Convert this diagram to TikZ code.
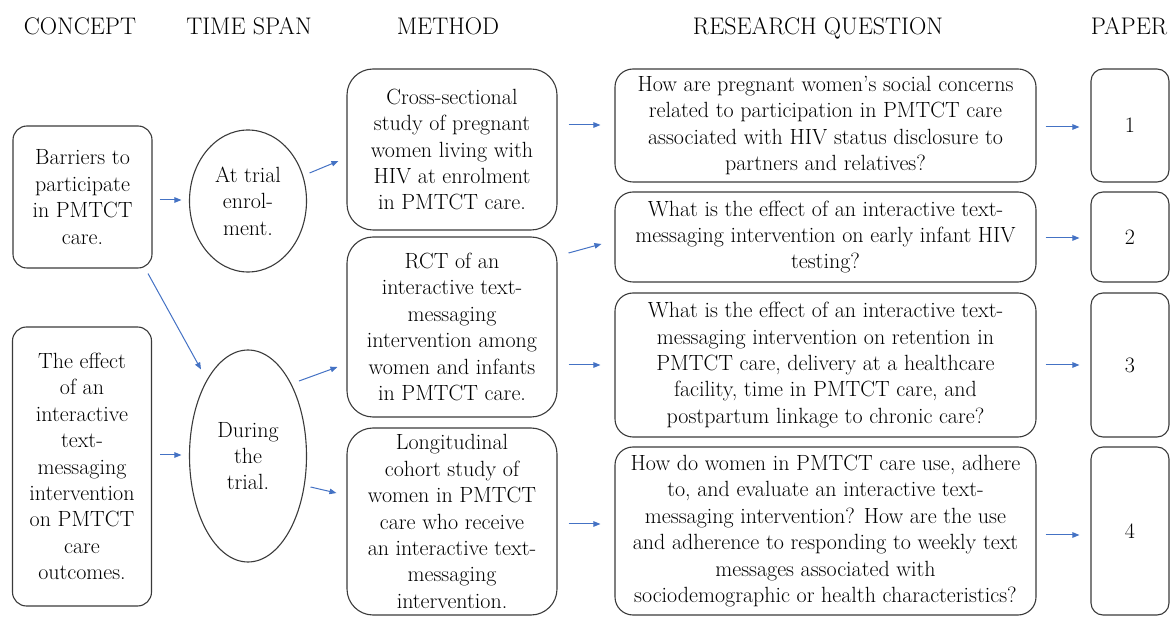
\documentclass[tikz,border=0pt]{standalone}
\usepackage{fontspec}
\usetikzlibrary{shapes.geometric,arrows.meta,calc}
\definecolor{arrblue}{HTML}{4472C4}
\definecolor{edge}{HTML}{3A3A3A}
\begin{document}
\begin{tikzpicture}[x=1pt,y=-1pt,
  txt/.style={font=\fontsize{22}{26.4}\selectfont\addfontfeatures{FakeBold=0.7}, align=center, inner sep=0pt},
  head/.style={font=\fontsize{24}{28}\selectfont\addfontfeatures{FakeBold=0.7}, inner sep=0pt, anchor=base},
  rbox/.style={txt, draw=edge, line width=1.1pt, rounded corners=#1},
  oval/.style={txt, draw=edge, line width=1.1pt, ellipse},
  arr/.style={draw=arrblue, line width=1pt, -{Triangle[length=7pt,width=5.5pt]}}
]
\useasboundingbox (0,0) rectangle (1171,617);

% headers
\node[head] (h1) at (80,35) {CONCEPT};
\node[head] (h2) at (249,35) {TIME SPAN};
\node[head] (h3) at (448,35) {METHOD};
\node[head] (h4) at (818,35) {RESEARCH QUESTION};
\node[head] (h5) at (1129,35) {PAPER};

% concept
\node[rbox=14pt, minimum width=139, minimum height=142] (c1) at (82.5,197)
  {Barriers to\\participate\\in PMTCT\\care.};
\node[rbox=14pt, minimum width=139, minimum height=279] (c2) at (82,466.5)
  {The effect\\of an\\interactive\\text-\\messaging\\intervention\\on PMTCT\\care\\outcomes.};

% time span
\node[oval, minimum width=117, minimum height=142] (e1) at (248,201)
  {At trial\\enrol-\\ment.};
\node[oval, minimum width=117, minimum height=212] (e2) at (248,456)
  {During\\the\\trial.};

% method
\node[rbox=26pt, minimum width=210, minimum height=161] (m1) at (452,149.5)
  {Cross-sectional\\study of pregnant\\women living with\\HIV at enrolment\\in PMTCT care.};
\node[rbox=26pt, minimum width=210, minimum height=180] (m2) at (452,327)
  {RCT of an\\interactive text-\\messaging\\intervention among\\women and infants\\in PMTCT care.};
\node[rbox=26pt, minimum width=210, minimum height=187] (m3) at (452,521.5)
  {Longitudinal\\cohort study of\\women in PMTCT\\care who receive\\an interactive text-\\messaging\\intervention.};

% research questions
\node[rbox=18pt, minimum width=421, minimum height=113] (q1) at (825.5,125.5)
  {How are pregnant women’s social concerns\\related to participation in PMTCT care\\associated with HIV status disclosure to\\partners and relatives?};
\node[rbox=18pt, minimum width=421, minimum height=90] (q2) at (825.5,237)
  {What is the effect of an interactive text-\\messaging intervention on early infant HIV\\testing?};
\node[rbox=18pt, minimum width=421, minimum height=144] (q3) at (825.5,365)
  {What is the effect of an interactive text-\\messaging intervention on retention in\\PMTCT care, delivery at a healthcare\\facility, time in PMTCT care, and\\postpartum linkage to chronic care?};
\node[rbox=18pt, minimum width=421, minimum height=168] (q4) at (825.5,531)
  {How do women in PMTCT care use, adhere\\to, and evaluate an interactive text-\\messaging intervention? How are the use\\and adherence to responding to weekly text\\messages associated with\\sociodemographic or health characteristics?};

% papers
\node[rbox=12pt, minimum width=78, minimum height=113] (p1) at (1130,125.5) {1};
\node[rbox=12pt, minimum width=78, minimum height=90] (p2) at (1130,237) {2};
\node[rbox=12pt, minimum width=78, minimum height=144] (p3) at (1130,365) {3};
\node[rbox=12pt, minimum width=78, minimum height=168] (p4) at (1130,531) {4};

% arrows
\draw[arr] ($(c1.east)+(7,3)$) -- ($(e1.west)+(-7.5,-1)$);
\draw[arr] ($(c1.south)+(65.5,5)$) -- ($(e2.north)+(-47,20)$);
\draw[arr] ($(c2.east)+(8,-11.5)$) -- ($(e2.west)+(-7.5,-1)$);
\draw[arr] ($(e1.east)+(2.5,-28)$) -- ($(m1.west)+(-8,11.5)$);
\draw[arr] ($(e2.center)+(51,-75)$) -- ($(m2.west)+(-9,40)$);
\draw[arr] ($(e2.east)+(3.5,31)$) -- ($(m3.west)+(-10,-28.5)$);
\draw[arr] ($(m1.east)+(11,-24.5)$) -- ($(q1.west)+(-14,-0.5)$);
\draw[arr] ($(m2.east)+(11,-74)$) -- ($(q2.west)+(-13,7)$);
\draw[arr] ($(m2.east)+(11,38)$) -- ($(q3.west)+(-14,0)$);
\draw[arr] ($(m3.east)+(11,2.5)$) -- ($(q4.west)+(-14,-7)$);
\draw[arr] ($(q1.east)+(9,1.5)$) -- ($(p1.west)+(-11,1.5)$);
\draw[arr] ($(q2.east)+(9,1)$) -- ($(p2.west)+(-11,1)$);
\draw[arr] ($(q3.east)+(9,0)$) -- ($(p3.west)+(-11,0)$);
\draw[arr] ($(q4.east)+(9,4)$) -- ($(p4.west)+(-11,4)$);
\end{tikzpicture}
\end{document}
